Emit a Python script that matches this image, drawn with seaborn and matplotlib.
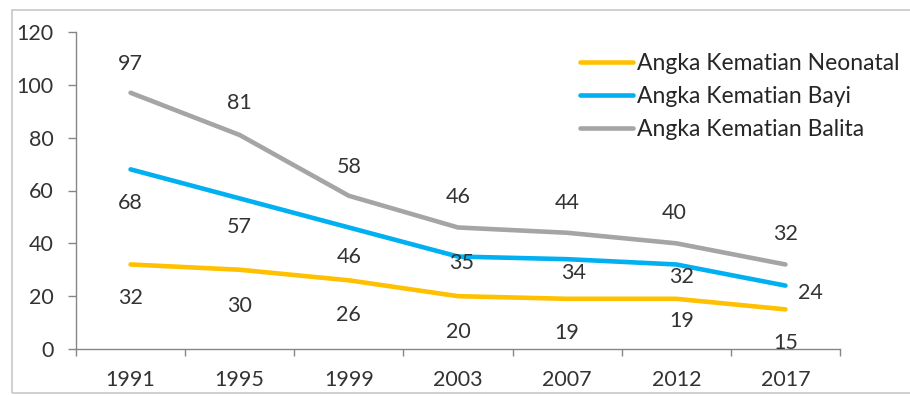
import numpy as np
import pandas as pd
import matplotlib
matplotlib.use('Agg')
import matplotlib.pyplot as plt
import seaborn as sns
from matplotlib.patches import Rectangle

# data
years = ['1991', '1995', '1999', '2003', '2007', '2012', '2017']
neonatal = [32, 30, 26, 20, 19, 19, 15]
bayi = [68, 57, 46, 35, 34, 32, 24]
balita = [97, 81, 58, 46, 44, 40, 32]
series_names = ['Angka Kematian Neonatal', 'Angka Kematian Bayi', 'Angka Kematian Balita']
colors = ['#FFC000', '#00B0F0', '#A5A5A5']

# label offsets (pixels, +y = down) to mimic the hand-placed excel labels
offsets = {
  'Angka Kematian Neonatal': [(0, 34), (0, 36), (0, 35), (0, 36), (0, 34), (5, 22), (0, 34)],
  'Angka Kematian Bayi': [(0, 34), (0, 29), (0, 30), (4, 6), (6, 14), (5, 13), (25, 7)],
  'Angka Kematian Balita': [(0, -29), (0, -32), (0, -29), (0, -30), (0, -30), (-2, -30), (0, -30)],
}

df = pd.DataFrame({
  'Tahun': years * 3,
  'Nilai': neonatal + bayi + balita,
  'Seri': sum([[n] * len(years) for n in series_names], []),
})
df['x'] = df['Tahun'].map({y: i for i, y in enumerate(years)})

sns.set_theme(style='white')
plt.rcParams['font.family'] = ['Lato', 'DejaVu Sans']

fig = plt.figure(figsize=(9.1, 3.96), dpi=100)
W, H = 910, 396
ax = fig.add_axes([76 / W, 1 - 349 / H, (840 - 76) / W, (349 - 32) / H])

sns.lineplot(data=df, x='x', y='Nilai', hue='Seri', palette=colors,
             hue_order=series_names, linewidth=3.3, ax=ax, legend=True)

txt_color = '#333333'
fs = 15.5
for name in series_names:
  sub = df[df['Seri'] == name]
  for (xi, v), (dx, dy) in zip(zip(sub['x'], sub['Nilai']), offsets[name]):
    ax.annotate(str(v), (xi, v), xytext=(dx, -dy), textcoords='offset pixels',
                ha='center', va='center', fontsize=fs, color=txt_color)

ax.set_xlim(-0.5, 6.5)
ax.set_ylim(0, 120)
ax.set_yticks(np.arange(0, 121, 20))
ax.set_xticks(np.arange(-0.5, 7, 1), minor=False)
ax.set_xticklabels([])
ax.set_xticks(np.arange(len(years)), minor=True)
ax.set_xticklabels(years, minor=True)
ax.tick_params(axis='x', which='major', length=5, width=1, color='#868686', direction='out', bottom=True)
ax.tick_params(axis='x', which='minor', length=0, pad=15, labelsize=fs, labelcolor=txt_color)
ax.tick_params(axis='y', length=6, width=1, color='#868686', direction='out', left=True,
               labelsize=fs, labelcolor=txt_color, pad=10)
ax.set_xlabel('')
ax.set_ylabel('')
for s in ['top', 'right']:
  ax.spines[s].set_visible(False)
for s in ['left', 'bottom']:
  ax.spines[s].set_color('#868686')
  ax.spines[s].set_linewidth(1)

leg = ax.legend(loc='upper left', bbox_to_anchor=(580 / W, 1 - 53 / H),
                bbox_transform=fig.transFigure, frameon=False, fontsize=16.5,
                handlelength=2.3, handletextpad=0.17, labelspacing=0.52,
                borderpad=0, borderaxespad=0)
for t in leg.get_texts():
  t.set_color('#262626')

# outer chart frame
fig.patches.append(Rectangle((12 / W, 3 / H), 1.0, (393 - 10) / H, transform=fig.transFigure,
                             fill=False, edgecolor='#c8c8c8', linewidth=1.2))

fig.savefig('out.png', dpi=100)
